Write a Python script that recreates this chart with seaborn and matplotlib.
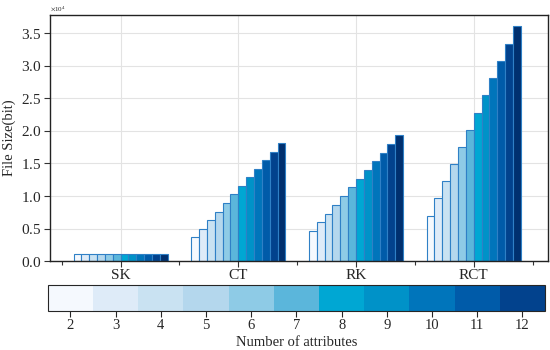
import numpy as np
import pandas as pd
import matplotlib
matplotlib.use("Agg")
import matplotlib.pyplot as plt
from matplotlib.colors import ListedColormap, BoundaryNorm
from matplotlib.cm import ScalarMappable
import seaborn as sns

# data (bits)
methods = ["SK", "CT", "RK", "RCT"]
attr_levels = list(range(1, 13))
sk_size = [1030, 1030, 1030, 1030, 1030, 1030, 1030, 1030, 1030, 1030, 1030, 1030]
ct_size = [3640, 4960, 6300, 7570, 8900, 10250, 11520, 12860, 14180, 15470, 16790, 18080]
rk_size = [4650, 5940, 7270, 8650, 9980, 11320, 12640, 13980, 15310, 16640, 17970, 19300]
rct_size = [6960, 9630, 12290, 14900, 17560, 20170, 22800, 25500, 28150, 30770, 33400, 36100]

# colorbar cells (attributes 2..12) and bar palette
cbar_ticks = list(range(2, 13))
cbar_colors = ["#f5f9fe", "#deebf8", "#c9e2f2", "#b4d7ed", "#8ecbe6", "#5bb6db",
               "#00a7d3", "#0092c8", "#0075bb", "#005ba9", "#02428d"]
bar_colors = cbar_colors + ["#00306f"]

rows = []
for m, vals in zip(methods, [sk_size, ct_size, rk_size, rct_size]):
    for a, v in zip(attr_levels, vals):
        rows.append({"method": m, "attr": a, "size": v})
df = pd.DataFrame(rows)

sns.set_theme(style="ticks")
plt.rcParams["font.family"] = ["Liberation Serif", "DejaVu Serif"]
plt.rcParams["mathtext.fontset"] = "stix"

fig = plt.figure(figsize=(5.5, 3.5), dpi=100)
ax = fig.add_axes([0.091, 0.254, 0.905, 0.703])

sns.barplot(data=df, x="method", y="size", hue="attr", palette=bar_colors,
            width=0.8, saturation=1, edgecolor="#2f80c6", linewidth=0.8,
            legend=False, ax=ax)

ax.grid(True, which="major", color="#e3e3e3", linewidth=0.8)
ax.set_axisbelow(True)

ax.set_xlim(-0.6, 3.63)
ax.set_ylim(0, 37800)
ax.set_yticks(np.arange(0, 35001, 5000))
ax.ticklabel_format(axis="y", style="sci", scilimits=(0, 0), useMathText=True)
ax.yaxis.get_offset_text().set_fontsize(5)
ax.set_xticks([-0.5, 0.5, 1.5, 2.5, 3.5], minor=True)
ax.tick_params(axis="x", which="minor", length=3, width=0.8, direction="out", color="#333333")
ax.tick_params(axis="both", which="major", length=4, width=0.8, direction="out",
               labelsize=11, color="#333333", pad=2)
ax.set_xlabel("")
ax.set_ylabel("File Size(bit)", fontsize=10.5)
for s in ax.spines.values():
    s.set_visible(True)
    s.set_color("#222222")
    s.set_linewidth(1.0)

# colorbar
cmap = ListedColormap(cbar_colors)
norm = BoundaryNorm(np.arange(1.5, 13.5, 1), cmap.N)
cax = fig.add_axes([0.087, 0.112, 0.904, 0.074])
cb = fig.colorbar(ScalarMappable(norm=norm, cmap=cmap), cax=cax,
                  orientation="horizontal", ticks=cbar_ticks)
cb.ax.minorticks_off()
cb.outline.set_linewidth(0.8)
cb.ax.tick_params(length=4, width=0.8, labelsize=10.5, pad=2)
cb.set_label("Number of attributes", fontsize=10.5, labelpad=3)

fig.savefig("out.png", dpi=100)
